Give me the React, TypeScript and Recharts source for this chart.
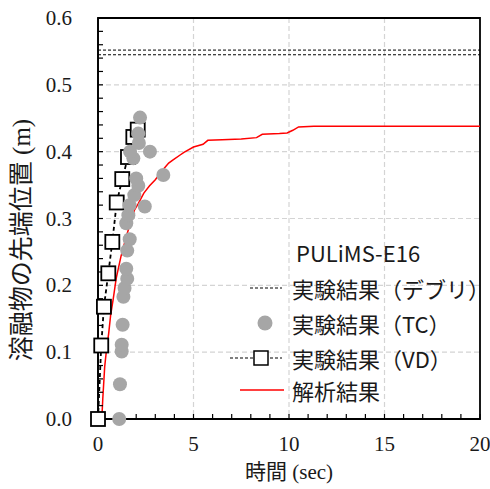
import {
  ComposedChart,
  XAxis,
  YAxis,
  CartesianGrid,
  Line,
  Scatter,
  ReferenceLine,
  ReferenceArea,
} from 'recharts';

// ---------------------------------------------------------------------------
// Data (time in sec, position in m)
// ---------------------------------------------------------------------------

const xTicks = [0, 1, 2, 3, 4, 5, 6, 7, 8, 9, 10, 11, 12, 13, 14, 15, 16, 17, 18, 19, 20];
const yTicks = [
  0, 0.02, 0.04, 0.06, 0.08, 0.1, 0.12, 0.14, 0.16, 0.18, 0.2, 0.22, 0.24, 0.26, 0.28, 0.3,
  0.32, 0.34, 0.36, 0.38, 0.4, 0.42, 0.44, 0.46, 0.48, 0.5, 0.52, 0.54, 0.56, 0.58, 0.6,
];
const xGrid = [5, 10, 15];
const yGrid = [0.1, 0.2, 0.3, 0.4, 0.5];

/** 実験結果（デブリ） */
const debrisLevels = [0.552, 0.545];

/** 実験結果（VD） */
const vdPoints: [number, number][] = [
  [0, 0], [0.17, 0.11], [0.31, 0.168], [0.54, 0.218], [0.75, 0.265],
  [0.98, 0.324], [1.27, 0.359], [1.57, 0.392], [1.85, 0.422], [2.08, 0.433],
];

/** 実験結果（TC） */
const tcPoints: [number, number][] = [
  [1.11, 0.0], [1.15, 0.052], [1.24, 0.101], [1.24, 0.111], [1.29, 0.141],
  [1.33, 0.183], [1.39, 0.196], [1.53, 0.21], [1.48, 0.225], [1.53, 0.252],
  [1.66, 0.269], [1.48, 0.293], [1.59, 0.305], [1.65, 0.32], [2.45, 0.318],
  [1.9, 0.335], [2.11, 0.349], [2.0, 0.36], [3.42, 0.365], [1.85, 0.39],
  [1.68, 0.4], [2.72, 0.4], [2.14, 0.413], [2.11, 0.427], [2.2, 0.451],
];

/** 解析結果 */
const simPoints: [number, number][] = [
  [0.2, 0], [0.25, 0.03], [0.35, 0.078], [0.45, 0.105], [0.56, 0.128], [0.66, 0.155],
  [0.8, 0.18], [0.95, 0.21], [1.2, 0.243], [1.5, 0.275], [1.75, 0.298], [1.9, 0.312],
  [2.1, 0.322], [2.4, 0.338], [2.7, 0.349], [3.0, 0.358], [3.4, 0.373], [3.7, 0.383],
  [3.95, 0.388], [4.3, 0.395], [4.5, 0.399], [5.0, 0.407], [5.5, 0.411], [5.75, 0.417],
  [6.5, 0.418], [7.5, 0.419], [8.3, 0.421], [8.6, 0.426], [9.5, 0.427], [9.9, 0.428],
  [10.2, 0.432], [10.5, 0.437], [11.3, 0.438], [20, 0.438],
];

const toXY = (pts: [number, number][]) => pts.map(([x, y]) => ({ x, y }));

// ---------------------------------------------------------------------------
// Styles
// ---------------------------------------------------------------------------

const SERIF = 'Liberation Serif, serif';
const SANS = 'Noto Sans CJK JP, Noto Sans, sans-serif';
const GRAY = '#a6a6a6';
const INK = '#1a1a1a';

function SquareDot(props: { cx?: number; cy?: number }) {
  const { cx, cy } = props;
  if (cx == null || cy == null) return null;
  return (
    <rect x={cx - 7} y={cy - 7} width={14} height={14} fill="#fff" stroke="#000" strokeWidth={1.8} />
  );
}

function CircleDot(props: { cx?: number; cy?: number }) {
  const { cx, cy } = props;
  if (cx == null || cy == null) return null;
  return <circle cx={cx} cy={cy} r={7} fill={GRAY} />;
}

// tick labels: only every 5 sec / every 0.1 m, minor ticks unlabeled
function XTick(props: any) {
  const { x, y, payload } = props;
  const v = payload.value as number;
  if (v % 5 !== 0) return null;
  return (
    <text x={x} y={y + 14} textAnchor="middle" fontSize={21} fontFamily={SERIF} fill={INK}>
      {v}
    </text>
  );
}

function YTick(props: any) {
  const { x, y, payload } = props;
  const v = payload.value as number;
  if (Math.abs(v * 10 - Math.round(v * 10)) > 1e-6) return null;
  return (
    <text x={x} y={y + 7} textAnchor="end" fontSize={21} fontFamily={SERIF} fill={INK}>
      {v.toFixed(1)}
    </text>
  );
}

const LEGEND_ROWS = [
  { key: 'debris', label: '実験結果（デブリ）', top: 271 },
  { key: 'tc', label: '実験結果（TC）', top: 306 },
  { key: 'vd', label: '実験結果（VD）', top: 341 },
  { key: 'sim', label: '解析結果', top: 373 },
];

function LegendIcon({ kind }: { kind: string }) {
  return (
    <svg width={64} height={34}>
      {kind === 'debris' && (
        <line x1={22} x2={54} y1={17} y2={17} stroke="#000" strokeWidth={1} strokeDasharray="3 2" />
      )}
      {kind === 'tc' && <circle cx={37} cy={17} r={7.5} fill={GRAY} />}
      {kind === 'vd' && (
        <>
          <line x1={2} x2={54} y1={17} y2={17} stroke="#000" strokeWidth={1.2} strokeDasharray="3 2" />
          <rect x={26} y={10} width={14} height={14} fill="#fff" stroke="#000" strokeWidth={1.5} />
        </>
      )}
      {kind === 'sim' && <line x1={12} x2={56} y1={17} y2={17} stroke="#ff0000" strokeWidth={1.5} />}
    </svg>
  );
}

// ---------------------------------------------------------------------------
// Component
// ---------------------------------------------------------------------------

export default function App() {
  return (
    <div style={{ position: 'absolute', left: 0, top: 0, width: 490, height: 489, background: '#fff' }}>
      <ComposedChart width={490} height={489} margin={{ top: 18, right: 10, bottom: 0, left: 0 }}>
        <CartesianGrid
          horizontalValues={yGrid}
          verticalValues={xGrid}
          stroke="#d4d4d4"
          strokeDasharray="5 3"
          strokeWidth={1.2}
        />
        <XAxis
          type="number"
          dataKey="x"
          domain={[0, 20]}
          ticks={xTicks}
          interval={0}
          tickSize={-5}
          tickMargin={23}
          height={70}
          axisLine={{ stroke: '#000', strokeWidth: 1.5 }}
          tickLine={{ stroke: '#000', strokeWidth: 1.2 }}
          tick={<XTick />}
          label={{
            content: () => (
              <text x={289} y={479} textAnchor="middle" fontSize={21} fontFamily={SERIF} fill={INK}>
                <tspan fontFamily={SANS}>時間</tspan> (sec)
              </text>
            ),
          }}
        />
        <YAxis
          type="number"
          dataKey="y"
          domain={[0, 0.6]}
          ticks={yTicks}
          interval={0}
          tickSize={-5}
          tickMargin={31}
          width={98}
          axisLine={{ stroke: '#000', strokeWidth: 1.5 }}
          tickLine={{ stroke: '#000', strokeWidth: 1.2 }}
          tick={<YTick />}
          label={{
            content: () => (
              <text x={30} y={240} transform="rotate(-90, 30, 240)" textAnchor="middle"
                fontSize={25} fontFamily={SERIF} fill={INK}>
                <tspan fontFamily={SANS}>溶融物の先端位置</tspan> (m)
              </text>
            ),
          }}
        />

        {debrisLevels.map((lv) => (
          <ReferenceLine key={lv} y={lv} stroke="#000" strokeWidth={1} strokeDasharray="3 2" />
        ))}

        <Line
          data={toXY(vdPoints)}
          dataKey="y"
          type="linear"
          stroke="#000"
          strokeWidth={1.8}
          strokeDasharray="4 3"
          dot={<SquareDot />}
          activeDot={false}
          isAnimationActive={false}
        />
        <Scatter
          data={toXY(tcPoints)}
          dataKey="y"
          shape={<CircleDot />}
          isAnimationActive={false}
        />
        <Line
          data={toXY(simPoints)}
          dataKey="y"
          type="linear"
          stroke="#ff0000"
          strokeWidth={1.5}
          dot={false}
          activeDot={false}
          isAnimationActive={false}
        />

        <ReferenceArea x1={0} x2={20} y1={0} y2={0.6} fill="none" stroke="#000" strokeWidth={1.8} />
      </ComposedChart>

      {/* Legend */}
      <div style={{ position: 'absolute', left: 296, top: 235, fontFamily: SANS, fontSize: 22, color: INK, lineHeight: '34px' }}>
        PULiMS-E16
      </div>
      {LEGEND_ROWS.map((r) => (
        <div key={r.key} style={{ position: 'absolute', left: 228, top: r.top, height: 34, display: 'flex', alignItems: 'center' }}>
          <LegendIcon kind={r.key} />
          <span style={{ fontFamily: SANS, fontSize: 22, color: INK, lineHeight: '34px', whiteSpace: 'nowrap' }}>
            {r.label}
          </span>
        </div>
      ))}
    </div>
  );
}
